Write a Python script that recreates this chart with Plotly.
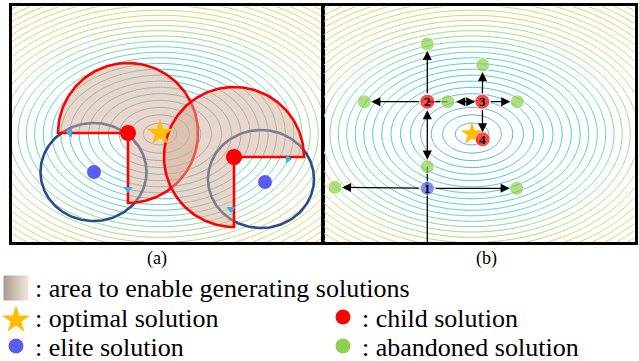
import numpy as np
import plotly.graph_objects as go

W, H = 639, 361

# ---------------- landscape (objective function contours) ----------------
OPT_X, OPT_Y = 148.0, 108.0          # optimum location (panel units)
RING_SX, RING_SY, RING_P = 16.7, 10.9, 1.233
RING_LEVELS_MAX = 25

# ---------------- panel (a) ----------------
A_STAR_X, A_STAR_Y = [148], [109]
A_CHILD_X = [116, 222]
A_CHILD_Y = [109, 85]
A_ELITE_X = [82, 253]
A_ELITE_Y = [70, 60]
A_CIRCLE_CX = [81.5, 249]
A_CIRCLE_CY = [70, 63]
A_CIRCLE_RX = [53, 53]
A_CIRCLE_RY = [49, 49]
A_SECTOR_R = [70, 70]
A_SECTOR_FROM = [180, 0]      # degrees
A_SECTOR_TO = [-90, 270]
A_TRI_X = [58, 116, 276, 219]
A_TRI_Y = [109, 53, 83, 33]
A_TRI_SYM = ["triangle-left", "triangle-down", "triangle-right", "triangle-down"]

# ---------------- panel (b) ----------------
B_STAR_X, B_STAR_Y = [148], [108]
B_NODE_NAME = ["n1", "n2", "n3", "n4", "gU2", "gL2", "gR2", "gU3", "gR3", "gA1", "gL1", "gR1"]
B_NODE_X = [103.3, 103.3, 158.3, 158.7, 103.3, 40.3, 123.7, 158.7, 193.3, 103.3, 11.0, 192.7]
B_NODE_Y = [53.7, 140.3, 140.3, 102.7, 198.0, 140.3, 140.3, 177.0, 140.3, 75.3, 54.7, 53.7]
B_NODE_KIND = ["elite", "child", "child", "child", "abandoned", "abandoned", "abandoned",
               "abandoned", "abandoned", "abandoned", "abandoned", "abandoned"]
B_NODE_LABEL = ["1", "2", "3", "4", "", "", "", "", "", "", "", ""]
B_ARROWS = [("n1", "gL1", "end"), ("n1", "gR1", "end"), ("n2", "gA1", "end+start"),
            ("n2", "gU2", "end"), ("n2", "gL2", "end"), ("gR2", "n3", "end+start"),
            ("n3", "gU3", "end"), ("n3", "gR3", "end"), ("n3", "n4", "end")]
B_LINES = [["bottom", "n1", "gA1"], ["n2", "gR2"]]

# ---------------- legend ----------------
LEG_LABEL = [": area to enable generating solutions", ": optimal solution", ": child solution",
             ": elite solution", ": abandoned solution"]
LEG_KIND = ["area", "optimal", "child", "elite", "abandoned"]
LEG_ROW = [0, 1, 1, 2, 2]
LEG_COL = [0, 0, 1, 0, 1]
PANEL_LABELS = ["(a)", "(b)"]

# ---------------- styles ----------------
C_RED = "#ff0000"
C_ELITE = "#5b5bf0"
C_GREEN = "#8dcf4e"
C_STAR = "#ffbf00"
C_NAVY = "#2c4a8c"
C_TRI = "#2fb5e6"
FILL = "rgba(212,172,148,0.5)"
SERIF = "'Times New Roman', 'Liberation Serif', 'DejaVu Serif', serif"
RING_SCALE = [[0.0, "#5aaaf0"], [0.2, "#45c2e8"], [0.4, "#4ccfc6"], [0.6, "#98d98a"],
              [0.8, "#d6d46c"], [1.0, "#f0bf5e"]]

PA = dict(x0=12, x1=322, y0=6, y1=242)   # panel a pixel box
PB = dict(x0=324, x1=635, y0=6, y1=242)  # panel b pixel box
LABEL_PX = [157, 486]
LABEL_PY = 258
LEG_COL_X = [16, 343]
LEG_ROW_Y = [288, 318, 347]
LEG_SYM_DY = {"area": 0, "optimal": 2, "child": -1, "elite": -1, "abandoned": -1}
LEG_TEXT_DX = 18
LEG_FONT = 26

fig = go.Figure()

# contour grid
gx = np.arange(0, 312, 1.5)
gy = np.arange(0, 237, 1.5)
GX, GY = np.meshgrid(gx, gy)
Z = np.sqrt(((GX - OPT_X) / RING_SX) ** 2 + ((GY - OPT_Y) / RING_SY) ** 2) ** RING_P

for xa, ya in (("x", "y"), ("x2", "y2")):
    fig.add_trace(go.Contour(
        x=gx, y=gy, z=Z, xaxis=xa, yaxis=ya, showscale=False,
        colorscale=RING_SCALE, zmin=0, zmax=RING_LEVELS_MAX,
        contours=dict(start=1, end=60, size=1, coloring="lines"),
        line=dict(width=1.0), hoverinfo="skip"))

# ---------- panel a ----------
t = np.linspace(0, 2 * np.pi, 200)
for cx, cy, rx, ry in zip(A_CIRCLE_CX, A_CIRCLE_CY, A_CIRCLE_RX, A_CIRCLE_RY):
    fig.add_trace(go.Scatter(x=cx + rx * np.cos(t), y=cy + ry * np.sin(t), mode="lines",
                             line=dict(color=C_NAVY, width=2.6), xaxis="x", yaxis="y",
                             showlegend=False, hoverinfo="skip"))

for cx, cy, r, a0, a1 in zip(A_CHILD_X, A_CHILD_Y, A_SECTOR_R, A_SECTOR_FROM, A_SECTOR_TO):
    th = np.radians(np.linspace(a0, a1, 160))
    xs = np.concatenate([[cx], cx + r * np.cos(th), [cx]])
    ys = np.concatenate([[cy], cy + r * np.sin(th), [cy]])
    fig.add_trace(go.Scatter(x=xs, y=ys, mode="lines", fill="toself", fillcolor=FILL,
                             line=dict(color=C_RED, width=2.6), xaxis="x", yaxis="y",
                             showlegend=False, hoverinfo="skip"))

fig.add_trace(go.Scatter(x=A_TRI_X, y=A_TRI_Y, mode="markers", xaxis="x", yaxis="y",
                         marker=dict(symbol=A_TRI_SYM, size=8, color=C_TRI),
                         showlegend=False, hoverinfo="skip"))
fig.add_trace(go.Scatter(x=A_ELITE_X, y=A_ELITE_Y, mode="markers", xaxis="x", yaxis="y",
                         marker=dict(size=14, color=C_ELITE), showlegend=False))
fig.add_trace(go.Scatter(x=A_CHILD_X, y=A_CHILD_Y, mode="markers", xaxis="x", yaxis="y",
                         marker=dict(size=16, color=C_RED), showlegend=False))
fig.add_trace(go.Scatter(x=A_STAR_X, y=A_STAR_Y, mode="markers", xaxis="x", yaxis="y",
                         marker=dict(symbol="star", size=20, color=C_STAR), showlegend=False))

# ---------- panel b ----------
pos = {n: (x, y) for n, x, y in zip(B_NODE_NAME, B_NODE_X, B_NODE_Y)}
pos["bottom"] = (pos["n1"][0], 0)
for seg in B_LINES:
    fig.add_trace(go.Scatter(x=[pos[s][0] for s in seg], y=[pos[s][1] for s in seg],
                             mode="lines", line=dict(color="black", width=1.3),
                             xaxis="x2", yaxis="y2", showlegend=False, hoverinfo="skip"))

for a, b, side in B_ARROWS:
    fig.add_annotation(x=pos[b][0], y=pos[b][1], ax=pos[a][0], ay=pos[a][1],
                       xref="x2", yref="y2", axref="x2", ayref="y2", text="",
                       showarrow=True, arrowhead=2, startarrowhead=2, arrowside=side,
                       arrowsize=1.4, startarrowsize=1.4, arrowwidth=1.3,
                       arrowcolor="black", standoff=7, startstandoff=7)

fig.add_trace(go.Scatter(x=B_STAR_X, y=B_STAR_Y, mode="markers", xaxis="x2", yaxis="y2",
                         marker=dict(symbol="star", size=17, color=C_STAR), showlegend=False))
kind_color = {"elite": C_ELITE, "child": C_RED, "abandoned": C_GREEN}
kind_size = {"elite": 14, "child": 15, "abandoned": 14}
fig.add_trace(go.Scatter(
    x=B_NODE_X, y=B_NODE_Y, mode="markers", xaxis="x2", yaxis="y2",
    marker=dict(size=[kind_size[k] for k in B_NODE_KIND],
                color=[kind_color[k] for k in B_NODE_KIND]),
    showlegend=False))
for x, y, lab in zip(B_NODE_X, B_NODE_Y, B_NODE_LABEL):
    if lab:
        fig.add_annotation(x=x, y=y, xref="x2", yref="y2", text="<b>" + lab + "</b>",
                           showarrow=False, xanchor="center", yanchor="middle",
                           font=dict(family=SERIF, size=13, color="black"))

# ---------- legend (drawn on a full-figure overlay axis) ----------
leg_style = {
    "area": dict(symbol="square", size=25, color="#a89a8e",
                 gradient=dict(type="horizontal", color="#f3e6de")),
    "optimal": dict(symbol="star", size=21, color=C_STAR),
    "child": dict(symbol="circle", size=15, color=C_RED),
    "elite": dict(symbol="circle", size=15, color=C_ELITE),
    "abandoned": dict(symbol="circle", size=15, color=C_GREEN),
}
for lab, kind, r, c in zip(LEG_LABEL, LEG_KIND, LEG_ROW, LEG_COL):
    fig.add_trace(go.Scatter(x=[LEG_COL_X[c]], y=[LEG_ROW_Y[r] + LEG_SYM_DY[kind]],
                             mode="markers", marker=leg_style[kind], xaxis="x3", yaxis="y3",
                             showlegend=False, hoverinfo="skip"))
    fig.add_annotation(x=LEG_COL_X[c] + LEG_TEXT_DX, y=LEG_ROW_Y[r], xref="x3", yref="y3",
                       text=lab, showarrow=False, xanchor="left", yanchor="middle",
                       borderpad=0, font=dict(family=SERIF, size=LEG_FONT, color="black"))

for lab, px in zip(PANEL_LABELS, LABEL_PX):
    fig.add_annotation(x=px / W, y=1 - LABEL_PY / H, xref="paper", yref="paper", text=lab,
                       xanchor="center", yanchor="middle", showarrow=False,
                       font=dict(family=SERIF, size=18, color="black"))

def panel_axes(box):
    xd = [box["x0"] / W, box["x1"] / W]
    yd = [1 - box["y1"] / H, 1 - box["y0"] / H]
    common = dict(showgrid=False, zeroline=False, showticklabels=False, ticks="",
                  showline=True, linecolor="black", linewidth=2.6, mirror=True,
                  fixedrange=True)
    return (dict(domain=xd, range=[0, box["x1"] - box["x0"]], **common),
            dict(domain=yd, range=[0, box["y1"] - box["y0"]], **common))

xa, ya = panel_axes(PA)
xb, yb = panel_axes(PB)
xa["anchor"], ya["anchor"] = "y", "x"
xb["anchor"], yb["anchor"] = "y2", "x2"

fig.update_layout(
    width=W, height=H, margin=dict(l=0, r=0, t=0, b=0),
    paper_bgcolor="white", plot_bgcolor="rgba(0,0,0,0)",
    font=dict(family=SERIF),
    xaxis=xa, yaxis=ya, xaxis2=xb, yaxis2=yb,
    xaxis3=dict(domain=[0, 1], range=[0, W], visible=False, anchor="y3", fixedrange=True),
    yaxis3=dict(domain=[0, 1], range=[H, 0], visible=False, anchor="x3", fixedrange=True),
    showlegend=False,
)

fig.write_html("out.html")
